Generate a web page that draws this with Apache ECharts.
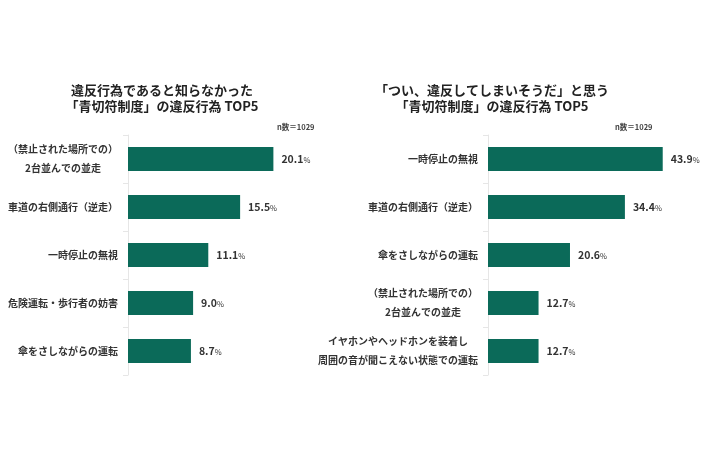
<!DOCTYPE html>
<html>
<head>
<meta charset="utf-8">
<script src="https://cdn.jsdelivr.net/npm/echarts@6/dist/echarts.min.js"></script>
<style>
  html, body { margin: 0; padding: 0; background: #fff; }
  #chart { width: 710px; height: 474px; }
</style>
</head>
<body>
<div id="chart"></div>
<script>
const FONT = '"Noto Sans CJK JP", "Noto Sans", sans-serif';
const GREEN = '#0b6a59';
const TEXT = '#333';

// left panel
const leftTitle = '違反行為であると知らなかった\n「青切符制度」の違反行為 TOP5';
const leftCats = ['（禁止された場所での）\n2台並んでの並走', '車道の右側通行（逆走）', '一時停止の無視', '危険運転・歩行者の妨害', '傘をさしながらの運転'];
const leftVals = [20.1, 15.5, 11.1, 9.0, 8.7];

// right panel
const rightTitle = '「つい、違反してしまいそうだ」と思う\n「青切符制度」の違反行為 TOP5';
const rightCats = ['一時停止の無視', '車道の右側通行（逆走）', '傘をさしながらの運転', '（禁止された場所での）\n2台並んでの並走', 'イヤホンやヘッドホンを装着し\n周囲の音が聞こえない状態での運転'];
const rightVals = [43.9, 34.4, 20.6, 12.7, 12.7];

const sampleNote = 'n数＝1029';

const chart = echarts.init(document.getElementById('chart'));

// two-line labels get their lines centred on each other
function catLabel(v) {
  const lines = v.split('\n');
  if (lines.length > 1) return lines.map(l => `{c|${l}}`).join('\n');
  return `{s|${v}}`;
}

const catAxis = (gridIndex, data) => ({
  type: 'category',
  gridIndex,
  data,
  inverse: true,
  axisLine: { show: true, lineStyle: { color: '#e6e6e6', width: 1 } },
  axisTick: { show: true, length: 5, lineStyle: { color: '#e6e6e6' } },
  axisLabel: {
    margin: 10,
    formatter: catLabel,
    rich: {
      s: { fontFamily: FONT, fontSize: 10, fontWeight: 'bold', color: TEXT },
      c: { fontFamily: FONT, fontSize: 10, fontWeight: 'bold', color: TEXT, align: 'center', lineHeight: 19 }
    }
  }
});

const valAxis = (gridIndex, max) => ({
  type: 'value', gridIndex, min: 0, max, show: false
});

const barSeries = (idx, data) => ({
  type: 'bar',
  xAxisIndex: idx,
  yAxisIndex: idx,
  data,
  barWidth: 24,
  itemStyle: { color: GREEN },
  silent: true,
  label: {
    show: true,
    position: 'right',
    distance: 8,
    formatter: p => `{v|${p.value.toFixed(1)}}{p|%}`,
    rich: {
      v: { fontFamily: FONT, fontSize: 10.5, fontWeight: 'bold', color: TEXT },
      p: { fontFamily: FONT, fontSize: 7.5, color: TEXT, padding: [2, 0, 0, 0] }
    }
  }
});

const titleStyle = { fontFamily: FONT, fontSize: 13, fontWeight: 'bold', color: '#222', lineHeight: 16, align: 'center' };
const noteStyle = { fontFamily: FONT, fontSize: 7.5, fontWeight: 'bold', color: '#444' };

chart.setOption({
  animation: false,
  backgroundColor: '#fff',
  title: [
    { text: leftTitle, left: 162, top: 82, textAlign: 'center', padding: 0, textStyle: titleStyle },
    { text: rightTitle, left: 492, top: 82, textAlign: 'center', padding: 0, textStyle: titleStyle },
    { text: sampleNote, left: 277, top: 123, padding: 0, textStyle: noteStyle },
    { text: sampleNote, left: 615, top: 123, padding: 0, textStyle: noteStyle }
  ],
  grid: [
    { left: 128, top: 135, width: 217, height: 240 },
    { left: 488, top: 135, width: 199, height: 240 }
  ],
  xAxis: [valAxis(0, 30), valAxis(1, 50)],
  yAxis: [catAxis(0, leftCats), catAxis(1, rightCats)],
  series: [barSeries(0, leftVals), barSeries(1, rightVals)]
});
</script>
</body>
</html>
